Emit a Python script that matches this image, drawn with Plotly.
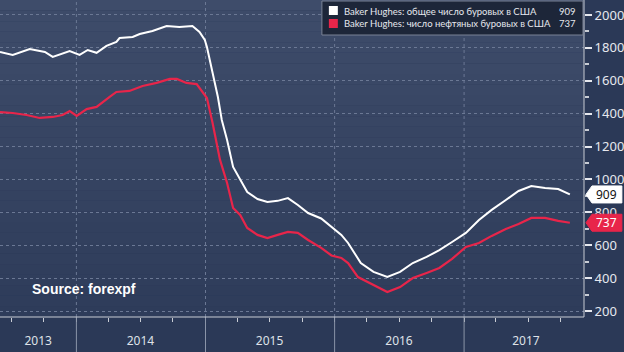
import plotly.graph_objects as go

# ---- data ----
total_dates = ["2013-05-30","2013-07-05","2013-08-22","2013-10-04","2013-10-26","2013-12-13",
               "2014-01-10","2014-02-02","2014-02-27","2014-03-27","2014-04-24","2014-05-03",
               "2014-06-09","2014-06-29","2014-08-04","2014-08-24","2014-09-13","2014-10-19",
               "2014-11-25","2014-12-15","2014-12-30","2015-01-05","2015-01-21","2015-02-05",
               "2015-02-16","2015-03-03","2015-03-20","2015-04-09","2015-04-29","2015-05-28",
               "2015-06-25","2015-07-24","2015-08-22","2015-09-19","2015-10-18","2015-11-24",
               "2015-12-23","2016-01-20","2016-02-08","2016-03-15","2016-04-20","2016-05-29",
               "2016-07-04","2016-08-09","2016-09-17","2016-10-23","2016-11-28","2017-01-06",
               "2017-02-12","2017-03-20","2017-04-29","2017-06-04","2017-07-10","2017-08-18",
               "2017-09-24","2017-10-13","2017-10-27"]
total_vals = [1775,1757,1793,1775,1745,1781,
              1757,1787,1770,1812,1836,1860,
              1866,1884,1903,1920,1933,1927,
              1933,1897,1848,1805,1647,1501,
              1362,1240,1076,997,924,881,
              863,870,887,845,796,763,
              711,663,614,492,438,407,
              438,492,529,571,620,675,
              754,815,875,930,960,948,
              942,925,909]

oil_dates = ["2013-05-30","2013-07-05","2013-08-13","2013-09-19","2013-10-26","2013-11-23",
             "2013-12-13","2014-01-02","2014-01-30","2014-02-27","2014-04-05","2014-04-24",
             "2014-05-31","2014-07-07","2014-08-16","2014-09-22","2014-10-12","2014-11-08",
             "2014-12-07","2014-12-24","2015-01-05","2015-01-21","2015-02-11","2015-03-03",
             "2015-03-20","2015-04-09","2015-04-29","2015-05-28","2015-06-25","2015-07-24",
             "2015-08-22","2015-09-19","2015-10-18","2015-11-24","2015-12-23","2016-01-20",
             "2016-02-08","2016-03-07","2016-04-04","2016-05-10","2016-05-29","2016-07-04",
             "2016-08-09","2016-09-17","2016-10-23","2016-11-28","2017-01-06","2017-02-12",
             "2017-03-20","2017-04-29","2017-06-04","2017-07-10","2017-08-18","2017-09-24",
             "2017-10-13","2017-10-27"]
oil_vals = [1410,1404,1392,1374,1380,1392,
            1416,1386,1428,1441,1502,1532,
            1538,1568,1587,1611,1611,1587,
            1580,1532,1495,1343,1119,979,
            827,784,705,663,644,663,
            681,675,632,584,538,523,
            492,407,377,340,316,346,
            401,432,462,517,590,614,
            657,699,729,766,766,748,
            742,737]

series_names = ["Baker Hughes: общее число буровых в США",
                "Baker Hughes: число нефтяных буровых в США"]
last_total = total_vals[-1]
last_oil = oil_vals[-1]

year_bounds = ["2014-01-01", "2015-01-01", "2016-01-01", "2017-01-01"]
year_label_pos = ["2013-09-15", "2014-07-01", "2015-07-01", "2016-07-01", "2017-06-25"]
year_labels = ["2013", "2014", "2015", "2016", "2017"]
x_range = ["2013-05-30", "2017-12-06"]
y_range = [164, 2091]
y_ticks = [200, 400, 600, 800, 1000, 1200, 1400, 1600, 1800, 2000]

WHITE = "#ffffff"
RED = "#e8254a"
PAPER = "#2b3957"

W, H = 624, 352
ML, MR, MT, MB = 0, 38, 0, 35
PW, PH = W - ML - MR, H - MT - MB


def px(xp):
    return (xp - ML) / PW


def py(yp):
    return 1 - (yp - MT) / PH


fig = go.Figure()
fig.add_trace(go.Scatter(x=total_dates, y=total_vals, mode="lines",
                         line=dict(color=WHITE, width=2), name=series_names[0]))
fig.add_trace(go.Scatter(x=oil_dates, y=oil_vals, mode="lines",
                         line=dict(color=RED, width=2.2), name=series_names[1]))

shapes = []
# gradient background of the plot area
top = (0x3e, 0x4c, 0x6a)
bot = (0x2e, 0x3c, 0x5a)
n = 30
for i in range(n):
    f = i / (n - 1)
    c = tuple(round(top[k] + (bot[k] - top[k]) * f) for k in range(3))
    shapes.append(dict(type="rect", xref="paper", yref="paper", x0=0, x1=1,
                       y0=1 - (i + 1) / n, y1=1 - i / n, layer="below",
                       fillcolor="rgb(%d,%d,%d)" % c, line=dict(width=0)))
# vertical dotted grid at year boundaries and solid dividers below axis
for d in year_bounds:
    shapes.append(dict(type="line", xref="x", yref="paper", x0=d, x1=d, y0=0, y1=1,
                       layer="below", line=dict(color="#6b7894", width=1, dash="dot")))
    shapes.append(dict(type="line", xref="x", yref="paper", x0=d, x1=d, y0=0, y1=py(352),
                       line=dict(color="#8a94a8", width=1)))
# axis lines
shapes.append(dict(type="line", xref="paper", yref="paper", x0=0, x1=1, y0=0, y1=0,
                   line=dict(color="#c8ccd4", width=1)))
shapes.append(dict(type="line", xref="paper", yref="paper", x0=1, x1=1, y0=0, y1=1,
                   line=dict(color="#c8ccd4", width=1)))

# value tags on the right
half = 8.5 / (PH / (y_range[1] - y_range[0]))
for val, fill, border in [(last_total, "#ffffff", "#ffffff"), (last_oil, RED, RED)]:
    x_tip, x_body, x_end = px(588), px(594), px(624)
    path = "M %f,%f L %f,%f L %f,%f L %f,%f L %f,%f Z" % (
        x_tip, val, x_body, val + half, x_end, val + half, x_end, val - half, x_body, val - half)
    shapes.append(dict(type="path", xref="paper", yref="y", path=path,
                       fillcolor=fill, line=dict(color=border, width=1)))

# legend box
shapes.append(dict(type="rect", xref="paper", yref="paper",
                   x0=px(323), x1=px(585), y0=py(35), y1=py(1),
                   fillcolor="#1d2639", line=dict(color="#7a8296", width=1)))
shapes.append(dict(type="rect", xref="paper", yref="paper",
                   x0=px(330), x1=px(339), y0=py(15), y1=py(6),
                   fillcolor=WHITE, line=dict(width=0)))
shapes.append(dict(type="rect", xref="paper", yref="paper",
                   x0=px(330), x1=px(339), y0=py(28), y1=py(19),
                   fillcolor=RED, line=dict(width=0)))

LFONT = dict(family="Lato", size=9.5, color="#e6e8ee")
annotations = [
    dict(xref="paper", yref="paper", x=px(343), y=py(11), text=series_names[0],
         showarrow=False, xanchor="left", yanchor="middle", font=LFONT),
    dict(xref="paper", yref="paper", x=px(343), y=py(24), text=series_names[1],
         showarrow=False, xanchor="left", yanchor="middle", font=LFONT),
    dict(xref="paper", yref="paper", x=px(580), y=py(11), text=str(last_total),
         showarrow=False, xanchor="right", yanchor="middle", font=LFONT),
    dict(xref="paper", yref="paper", x=px(580), y=py(24), text=str(last_oil),
         showarrow=False, xanchor="right", yanchor="middle", font=LFONT),
    dict(xref="paper", yref="y", x=px(609), y=last_total, text=str(last_total),
         showarrow=False, xanchor="center", yanchor="middle",
         font=dict(family="Noto Sans", size=12, color="#111111")),
    dict(xref="paper", yref="y", x=px(609), y=last_oil, text=str(last_oil),
         showarrow=False, xanchor="center", yanchor="middle",
         font=dict(family="Noto Sans", size=12, color="#ffffff")),
    dict(xref="paper", yref="paper", x=px(30), y=py(289), text="<b>Source: forexpf</b>",
         showarrow=False, xanchor="left", yanchor="middle",
         font=dict(family="Liberation Sans", size=14, color="#ffffff")),
]

fig.update_layout(
    width=W, height=H,
    margin=dict(l=ML, r=MR, t=MT, b=MB, pad=0),
    paper_bgcolor=PAPER, plot_bgcolor="rgba(0,0,0,0)",
    showlegend=False,
    shapes=shapes, annotations=annotations,
    xaxis=dict(type="date", range=x_range, showgrid=False, zeroline=False,
               tickmode="array", tickvals=year_label_pos, ticktext=year_labels,
               ticks="", showline=False,
               tickfont=dict(family="Noto Sans", size=12, color="#dfe2e8"),
               ticklabelstandoff=15,
               minor=dict(tickmode="linear", tick0="2013-01-01", dtick="M3",
                          ticks="outside", ticklen=4, tickcolor="#c8ccd4", showgrid=False)),
    yaxis=dict(side="right", range=y_range, tickmode="array", tickvals=y_ticks,
               showgrid=True, gridcolor="#6b7894", griddash="dot", gridwidth=1,
               zeroline=False, showline=False,
               ticks="outside", ticklen=7, tickwidth=2, tickcolor="#e6e8ee",
               tickfont=dict(family="Noto Sans", size=13, color="#e6e8ee"),
               minor=dict(tickmode="linear", tick0=100, dtick=200, ticks="outside",
                          ticklen=4, tickcolor="#c8ccd4", showgrid=False)),
)

fig.write_html("out.html")
